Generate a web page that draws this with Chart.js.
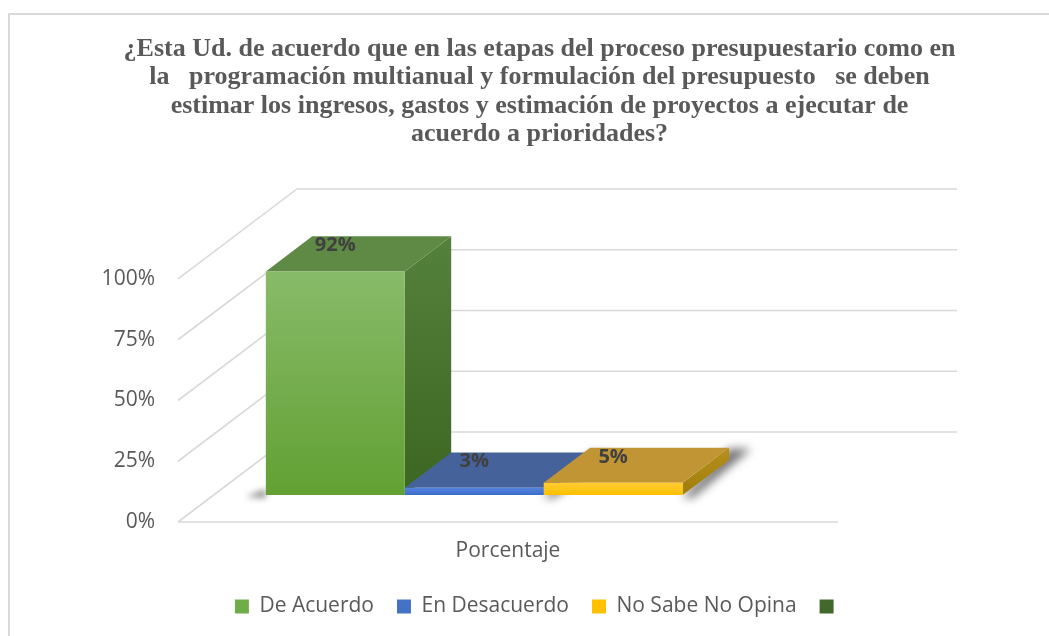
<!DOCTYPE html>
<html>
<head>
<meta charset="utf-8">
<script src="https://cdn.jsdelivr.net/npm/chart.js@4.4.0/dist/chart.umd.min.js"></script>
<style>
html,body{margin:0;padding:0;background:#fff;}
#wrap{position:relative;width:1049px;height:636px;overflow:hidden;background:#fff;}
#frame{position:absolute;left:8px;top:13px;width:1200px;height:800px;border:2px solid #d9d9d9;box-sizing:border-box;}
#c{position:absolute;left:0;top:0;}
</style>
</head>
<body>
<div id="wrap"><div id="frame"></div><canvas id="c" width="1049" height="636"></canvas></div>
<script>
// ---- data ----
const categories = ['Porcentaje'];
const seriesLabels = ['De Acuerdo', 'En Desacuerdo', 'No Sabe No Opina', ''];
const deAcuerdo = [92];
const enDesacuerdo = [3];
const noSabeNoOpina = [5];
const serieSinNombre = [null];
const yTickValues = [0, 25, 50, 75, 100];
const titleLines = [
  '¿Esta Ud. de acuerdo que en las etapas del proceso presupuestario como en',
  'la   programación multianual y formulación del presupuesto   se deben',
  'estimar los ingresos, gastos y estimación de proyectos a ejecutar de',
  'acuerdo a prioridades?'
];

// ---- styles ----
const legendColors = ['#70ad47', '#4472c4', '#ffc000', '#43682b'];
const frontTop = ['#88bb69', '#5585dc', '#ffcc33', '#4a7a30'];
const frontBottom = ['#62a033', '#3a6cc9', '#ffc000', '#3a6020'];
const topColors = ['#5f8a45', '#45629b', '#c29534', '#43682b'];
const sideTop = ['#54813b', '#34548c', '#b58f1a', '#3a5e25'];
const sideBottom = ['#3c6622', '#2e4a80', '#a07d0c', '#304f1e'];
const WALL = {dx: 119, dy: -90};
const BAR_FRONT = 0.3;
const BAR_DEPTH = 0.39;
const TXT = '#595959';

function frontGradient(c, i) {
  const chart = c.chart;
  const ya = chart.scales && chart.scales.y;
  if (!ya || c.raw == null || !chart.chartArea) return legendColors[i];
  const t = ya.getPixelForValue(c.raw), b = ya.getPixelForValue(0);
  const g = chart.ctx.createLinearGradient(0, t, 0, b);
  g.addColorStop(0, frontTop[i]);
  g.addColorStop(1, frontBottom[i]);
  return g;
}

const threeD = {
  id: 'threeD',
  beforeDatasetsDraw(chart) {
    const ctx = chart.ctx;
    const {left, right} = chart.chartArea;
    const y = chart.scales.y;
    ctx.save();
    ctx.strokeStyle = '#d9d9d9';
    ctx.lineWidth = 1.6;
    yTickValues.forEach(v => {
      const py = y.getPixelForValue(v);
      ctx.beginPath();
      ctx.moveTo(left, py);
      ctx.lineTo(left + WALL.dx, py + WALL.dy);
      ctx.lineTo(right + WALL.dx, py + WALL.dy);
      ctx.stroke();
    });
    const p0 = y.getPixelForValue(0);
    ctx.beginPath(); ctx.moveTo(left, p0); ctx.lineTo(right, p0); ctx.stroke();

    const ox = WALL.dx * BAR_FRONT, oy = WALL.dy * BAR_FRONT;
    const bx = WALL.dx * BAR_DEPTH, by = WALL.dy * BAR_DEPTH;
    ctx.translate(ox, oy);
    chart.data.datasets.forEach((ds, i) => {
      const meta = chart.getDatasetMeta(i);
      meta.data.forEach((bar, j) => {
        if (ds.data[j] == null) return;
        const p = bar.getProps(['x', 'y', 'base', 'width'], true);
        const l = p.x - p.width / 2, r = p.x + p.width / 2, top = p.y, base = p.base;
        // soft shadow
        if (ds.data[j] < 10) {
          ctx.save();
          ctx.filter = 'blur(5px)';
          ctx.fillStyle = 'rgba(0,0,0,0.55)';
          ctx.beginPath();
          ctx.moveTo(r, base + 2);
          ctx.lineTo(r + bx, top + by + 1);
          ctx.lineTo(r + bx + 22, top + by + 1);
          ctx.lineTo(r + 10, base + 3);
          ctx.closePath(); ctx.fill();
          ctx.restore();
        } else {
          ctx.save();
          ctx.filter = 'blur(3px)';
          ctx.fillStyle = 'rgba(0,0,0,0.45)';
          ctx.beginPath();
          ctx.moveTo(l - 20, base + 2);
          ctx.lineTo(l, base - 6);
          ctx.lineTo(l, base + 3);
          ctx.closePath(); ctx.fill();
          ctx.restore();
        }
        // side face
        const g = ctx.createLinearGradient(0, top + by, 0, base);
        g.addColorStop(0, sideTop[i]);
        g.addColorStop(1, sideBottom[i]);
        ctx.fillStyle = g;
        ctx.beginPath();
        ctx.moveTo(r, top); ctx.lineTo(r + bx, top + by);
        ctx.lineTo(r + bx, base + by); ctx.lineTo(r, base);
        ctx.closePath(); ctx.fill();
        // top face
        ctx.fillStyle = topColors[i];
        ctx.beginPath();
        ctx.moveTo(l, top); ctx.lineTo(l + bx, top + by);
        ctx.lineTo(r + bx, top + by); ctx.lineTo(r, top);
        ctx.closePath(); ctx.fill();
      });
    });
    ctx.restore();
    ctx.save();
    ctx.translate(ox, oy);
  },
  afterDatasetsDraw(chart) {
    const ctx = chart.ctx;
    // still translated into the bars' plane
    ctx.font = 'bold 20px "Open Sans"';
    ctx.fillStyle = '#404040';
    ctx.textAlign = 'center';
    ctx.textBaseline = 'middle';
    chart.data.datasets.forEach((ds, i) => {
      const meta = chart.getDatasetMeta(i);
      meta.data.forEach((bar, j) => {
        const v = ds.data[j];
        if (v == null) return;
        const p = bar.getProps(['x', 'y'], true);
        ctx.fillText(v + '%', p.x, p.y - 26);
      });
    });
    ctx.restore();
  }
};

const datasetsData = [deAcuerdo, enDesacuerdo, noSabeNoOpina, serieSinNombre];

new Chart(document.getElementById('c'), {
  type: 'bar',
  data: {
    labels: categories,
    datasets: datasetsData.map((d, i) => ({
      label: seriesLabels[i],
      data: d,
      backgroundColor: (c) => frontGradient(c, i),
      borderWidth: 0,
      clip: false,
      barPercentage: 1,
      categoryPercentage: 0.842
    }))
  },
  options: {
    responsive: false,
    animation: false,
    devicePixelRatio: 1,
    layout: {padding: {left: 30, right: 0, top: 0, bottom: 9}},
    plugins: {
      tooltip: {enabled: false},
      title: {
        display: true,
        text: titleLines,
        color: TXT,
        font: {family: '"Liberation Serif"', size: 26, weight: 'bold', lineHeight: 1.096},
        padding: {top: 35, bottom: 130}
      },
      legend: {
        position: 'bottom',
        labels: {
          color: TXT,
          font: {family: '"Open Sans"', size: 21},
          boxWidth: 14,
          boxHeight: 14,
          padding: 23,
          generateLabels: (chart) => chart.data.datasets.map((ds, i) => ({
            text: ds.label,
            fillStyle: legendColors[i],
            strokeStyle: legendColors[i],
            lineWidth: 0,
            hidden: false,
            datasetIndex: i,
            fontColor: TXT
          }))
        }
      }
    },
    scales: {
      x: {
        grid: {display: false, drawTicks: false},
        border: {display: false},
        ticks: {color: TXT, font: {family: '"Open Sans"', size: 21}, padding: 16},
        afterFit: (s) => { s.height = 51; }
      },
      y: {
        min: 0, max: 100,
        grid: {display: false, drawTicks: false},
        border: {display: false},
        ticks: {
          stepSize: 25,
          color: TXT,
          font: {family: '"Open Sans"', size: 21},
          padding: 23,
          callback: (v) => v + '%'
        },
        afterFit: (s) => { s.width = 148; }
      },
      yRight: {
        position: 'right',
        display: true,
        grid: {display: false, drawTicks: false},
        border: {display: false},
        ticks: {display: false},
        afterFit: (s) => { s.width = 211; }
      }
    }
  },
  plugins: [threeD]
});
</script>
</body>
</html>
